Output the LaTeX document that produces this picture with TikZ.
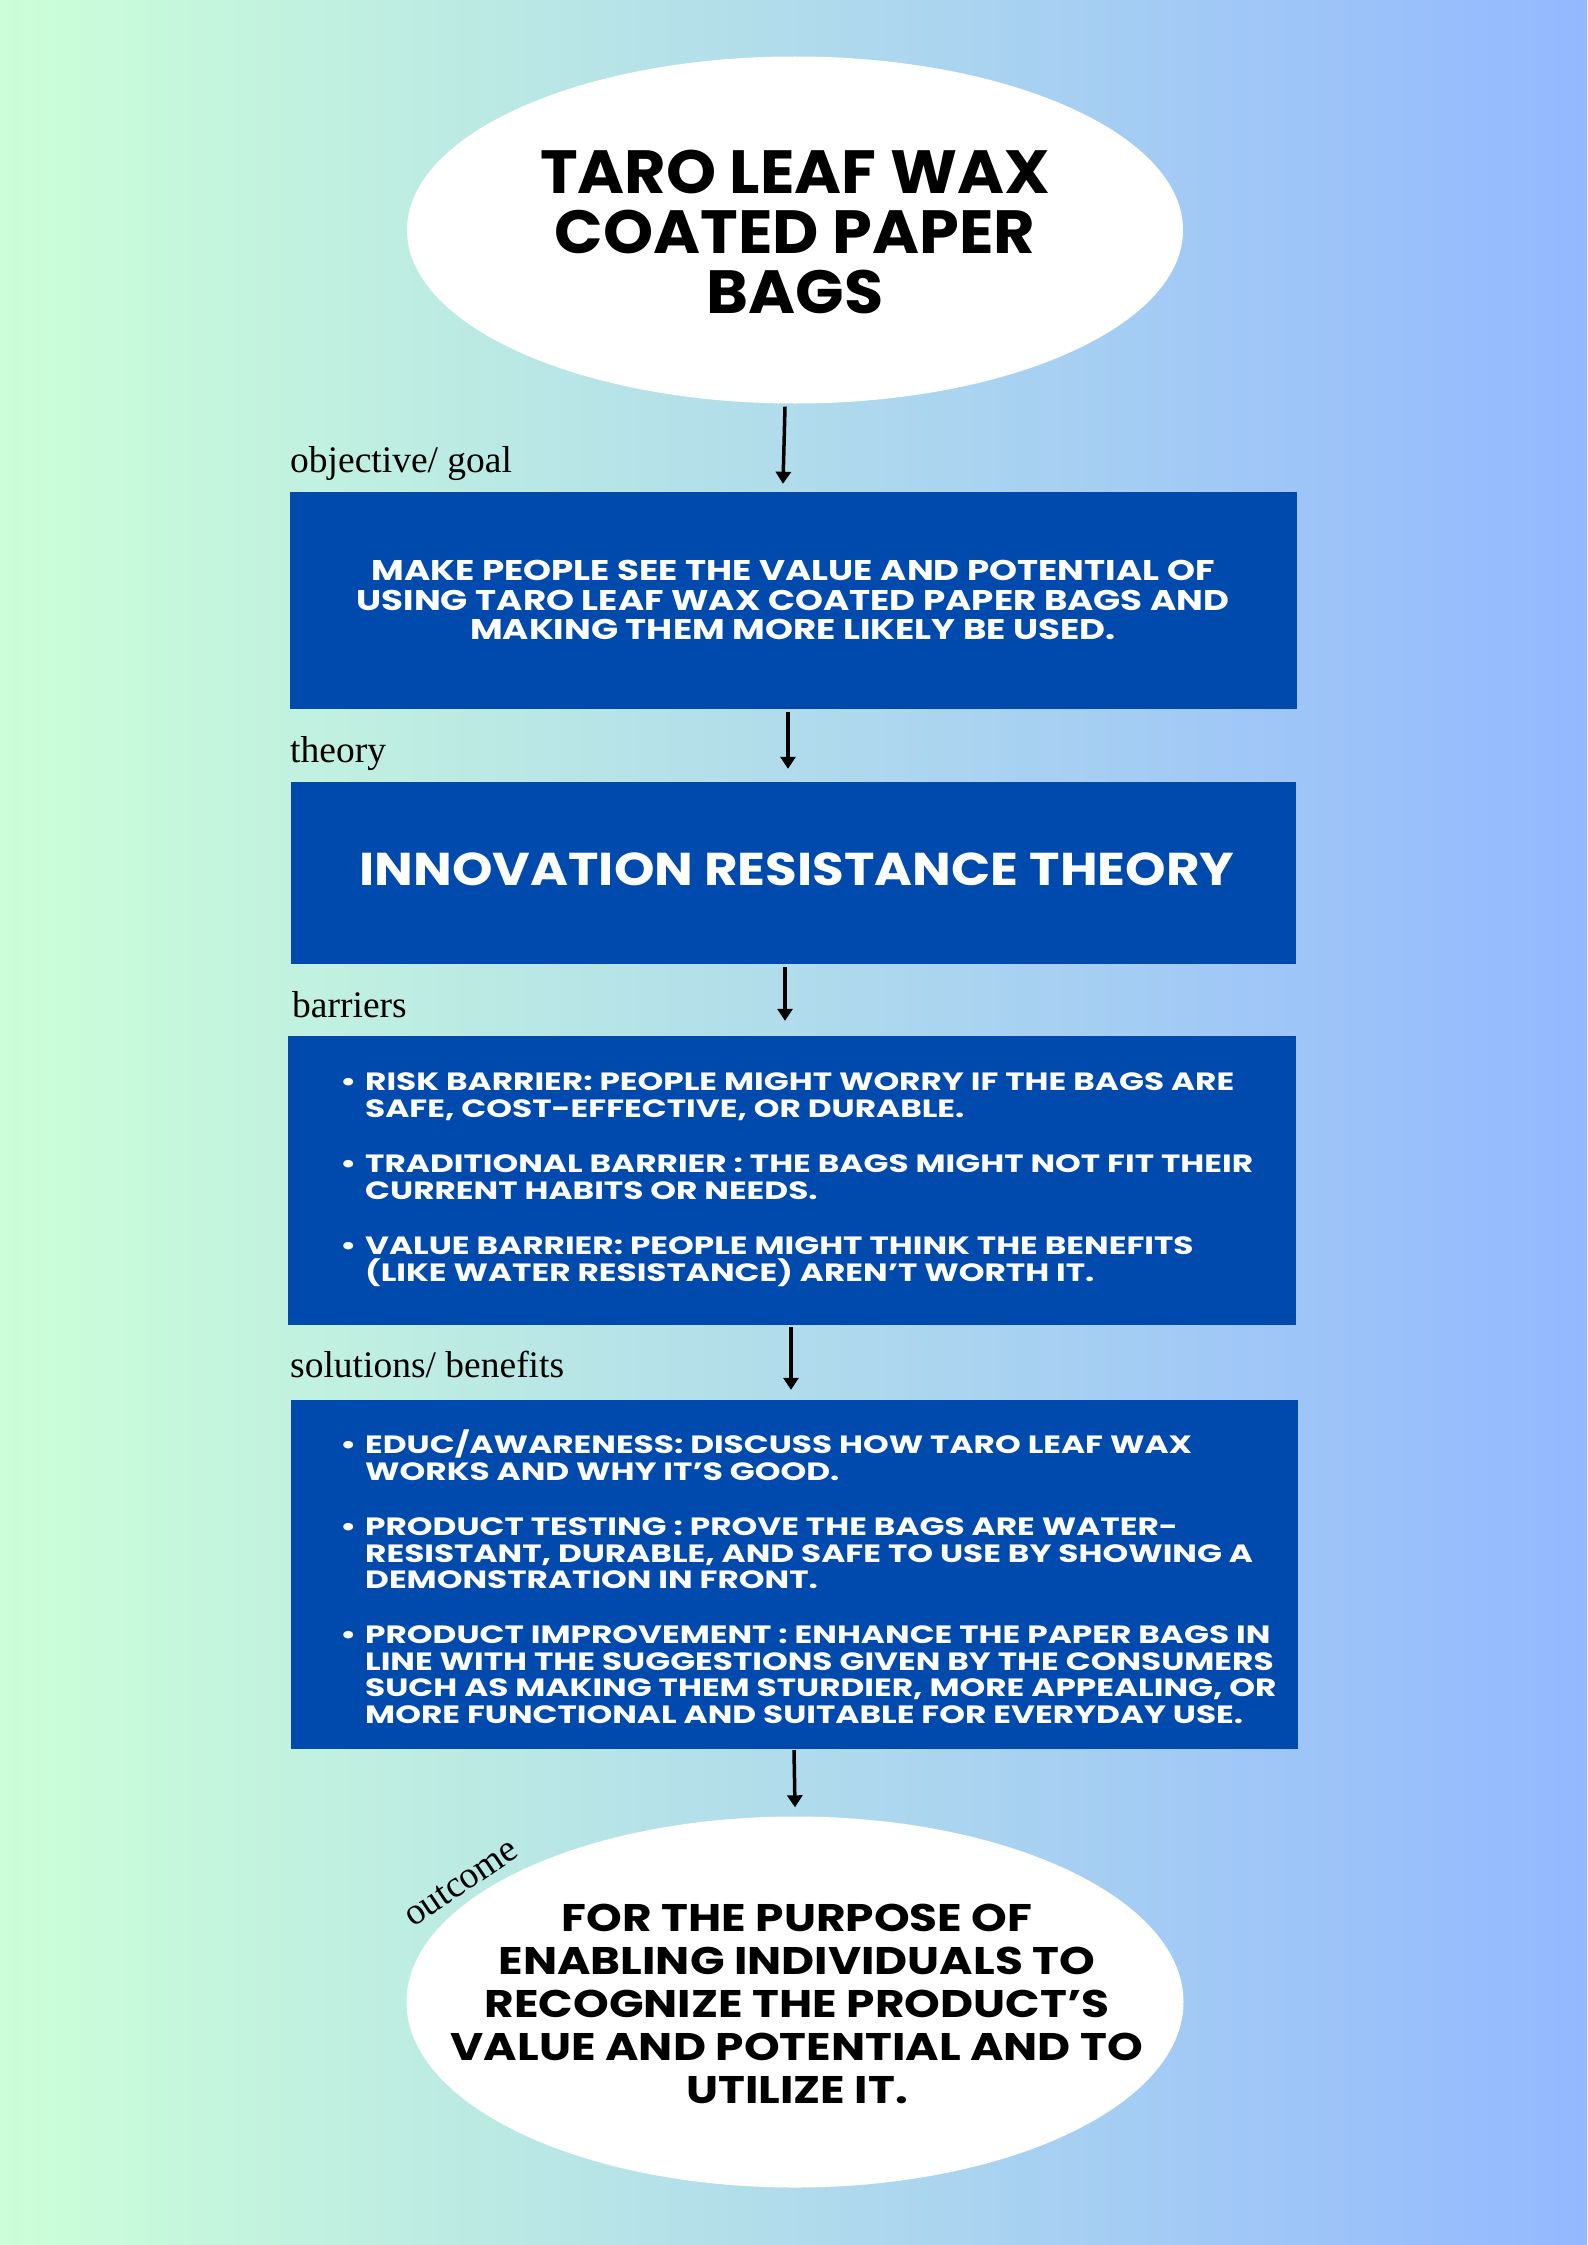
\documentclass[tikz,border=0pt]{standalone}
\usepackage{fontspec}
\usetikzlibrary{shapes.geometric,arrows.meta}
\newfontfamily\titlefont{Poppins}[FakeStretch=1.045]
\newfontfamily\goalfont{Poppins}[FakeStretch=1.25]
\newfontfamily\theoryfont{Poppins}[FakeStretch=1.12]
\newfontfamily\listfont{Poppins}[FakeStretch=1.31]
\newfontfamily\outcomefont{Poppins}[FakeStretch=1.18]
\newfontfamily\labelfont{Liberation Serif}
\definecolor{bgleft}{RGB}{204,255,216}
\definecolor{bgright}{RGB}{148,184,255}
\definecolor{boxblue}{RGB}{0,74,173}
% bullet with hanging indent for the list boxes
\newcommand{\itembul}{\makebox[27pt][l]{\hspace{2pt}•}}
\newcommand{\itemgap}{\hspace*{27pt}}
\begin{document}
\begin{tikzpicture}[x=1pt,y=-1pt,
  bluebox/.style={rectangle, fill=boxblue, draw=none, inner sep=0pt},
  oval/.style={ellipse, fill=white, draw=none, inner sep=0pt},
  boxtext/.style={text=white, inner sep=0pt},
  ovaltext/.style={text=black, align=center, inner sep=0pt},
  steplabel/.style={font={\labelfont\fontsize{37.5}{40}\selectfont}, inner sep=0pt},
  flow/.style={line width=3.5pt, -{Triangle[width=15pt,length=12pt]}}
]
\useasboundingbox (0,0) rectangle (1587,2245);
\shade[left color=bgleft, right color=bgright] (0,0) rectangle (1587,2245);

% title oval
\node[oval, minimum width=776pt, minimum height=347pt] (title) at (795,230) {};
\node[ovaltext, font={\titlefont\bfseries\fontsize{61}{60}\selectfont}] (titletext) at (795,231.5)
  {TARO LEAF WAX\\COATED PAPER\\BAGS};

% objective
\node[steplabel, anchor=base west] (goallabel) at (290,472) {objective/ goal};
\node[bluebox, minimum width=1007pt, minimum height=217pt] (goal) at (793.5,600.5) {};
\node[boxtext, align=center, font={\goalfont\bfseries\fontsize{28.5}{29.5}\selectfont}] (goaltext) at (793,600)
  {MAKE PEOPLE SEE THE VALUE AND POTENTIAL OF\\USING TARO LEAF WAX COATED PAPER BAGS AND\\MAKING THEM MORE LIKELY BE USED.};

% theory
\node[steplabel, anchor=base west] (theorylabel) at (290,762) {theory};
\node[bluebox, minimum width=1005pt, minimum height=182pt] (theory) at (793.5,873) {};
\node[boxtext, font={\theoryfont\bfseries\fontsize{46}{50}\selectfont}] (theorytext) at (797,869)
  {INNOVATION RESISTANCE THEORY};

% barriers
\node[steplabel, anchor=base west] (barrierlabel) at (292,1017) {barriers};
\node[bluebox, minimum width=1008pt, minimum height=289pt] (barriers) at (792,1180.5) {};
\node[boxtext, align=left, anchor=west, font={\listfont\bfseries\fontsize{25}{27}\selectfont}] (barriertext) at (338,1180)
  {\itembul RISK BARRIER: PEOPLE MIGHT WORRY IF THE BAGS ARE\\
   \itemgap SAFE, COST-EFFECTIVE, OR DURABLE.\\[28pt]
   \itembul TRADITIONAL BARRIER : THE BAGS MIGHT NOT FIT THEIR\\
   \itemgap CURRENT HABITS OR NEEDS.\\[28pt]
   \itembul VALUE BARRIER: PEOPLE MIGHT THINK THE BENEFITS\\
   \itemgap (LIKE WATER RESISTANCE) AREN’T WORTH IT.};

% solutions
\node[steplabel, anchor=base west] (benefitlabel) at (290,1377) {solutions/ benefits};
\node[bluebox, minimum width=1007pt, minimum height=349pt] (benefits) at (794.5,1574.5) {};
\node[boxtext, align=left, anchor=west, font={\listfont\bfseries\fontsize{25}{26.7}\selectfont}] (benefittext) at (338,1577)
  {\itembul EDUC/AWARENESS: DISCUSS HOW TARO LEAF WAX\\
   \itemgap WORKS AND WHY IT’S GOOD.\\[28pt]
   \itembul PRODUCT TESTING : PROVE THE BAGS ARE WATER-\\
   \itemgap RESISTANT, DURABLE, AND SAFE TO USE BY SHOWING A\\
   \itemgap DEMONSTRATION IN FRONT.\\[28pt]
   \itembul PRODUCT IMPROVEMENT : ENHANCE THE PAPER BAGS IN\\
   \itemgap LINE WITH THE SUGGESTIONS GIVEN BY THE CONSUMERS\\
   \itemgap SUCH AS MAKING THEM STURDIER, MORE APPEALING, OR\\
   \itemgap MORE FUNCTIONAL AND SUITABLE FOR EVERYDAY USE.};

% outcome oval
\node[oval, minimum width=777pt, minimum height=371pt] (outcome) at (795,2002) {};
\node[ovaltext, font={\outcomefont\bfseries\fontsize{38.5}{43}\selectfont}] (outcometext) at (797,2004)
  {FOR THE PURPOSE OF\\ENABLING INDIVIDUALS TO\\RECOGNIZE THE PRODUCT’S\\VALUE AND POTENTIAL AND TO\\UTILIZE IT.};
\node[steplabel, rotate=34] (outcomelabel) at (461,1883) {outcome};

% connectors
\draw[flow] ([xshift=-10pt,yshift=-3pt]title.south) -- ([xshift=-10.5pt,yshift=8pt]goal.north);
\draw[flow] ([xshift=-5.5pt,yshift=-3pt]goal.south) -- ([xshift=-5.5pt,yshift=13pt]theory.north);
\draw[flow] ([xshift=-8.5pt,yshift=-3pt]theory.south) -- ([xshift=-7pt,yshift=15pt]barriers.north);
\draw[flow] ([xshift=-1pt,yshift=-2pt]barriers.south) -- ([xshift=-3.5pt,yshift=10pt]benefits.north);
\draw[flow] ([xshift=-0.5pt,yshift=-1pt]benefits.south) -- ([yshift=9pt]outcome.north);
\end{tikzpicture}
\end{document}
